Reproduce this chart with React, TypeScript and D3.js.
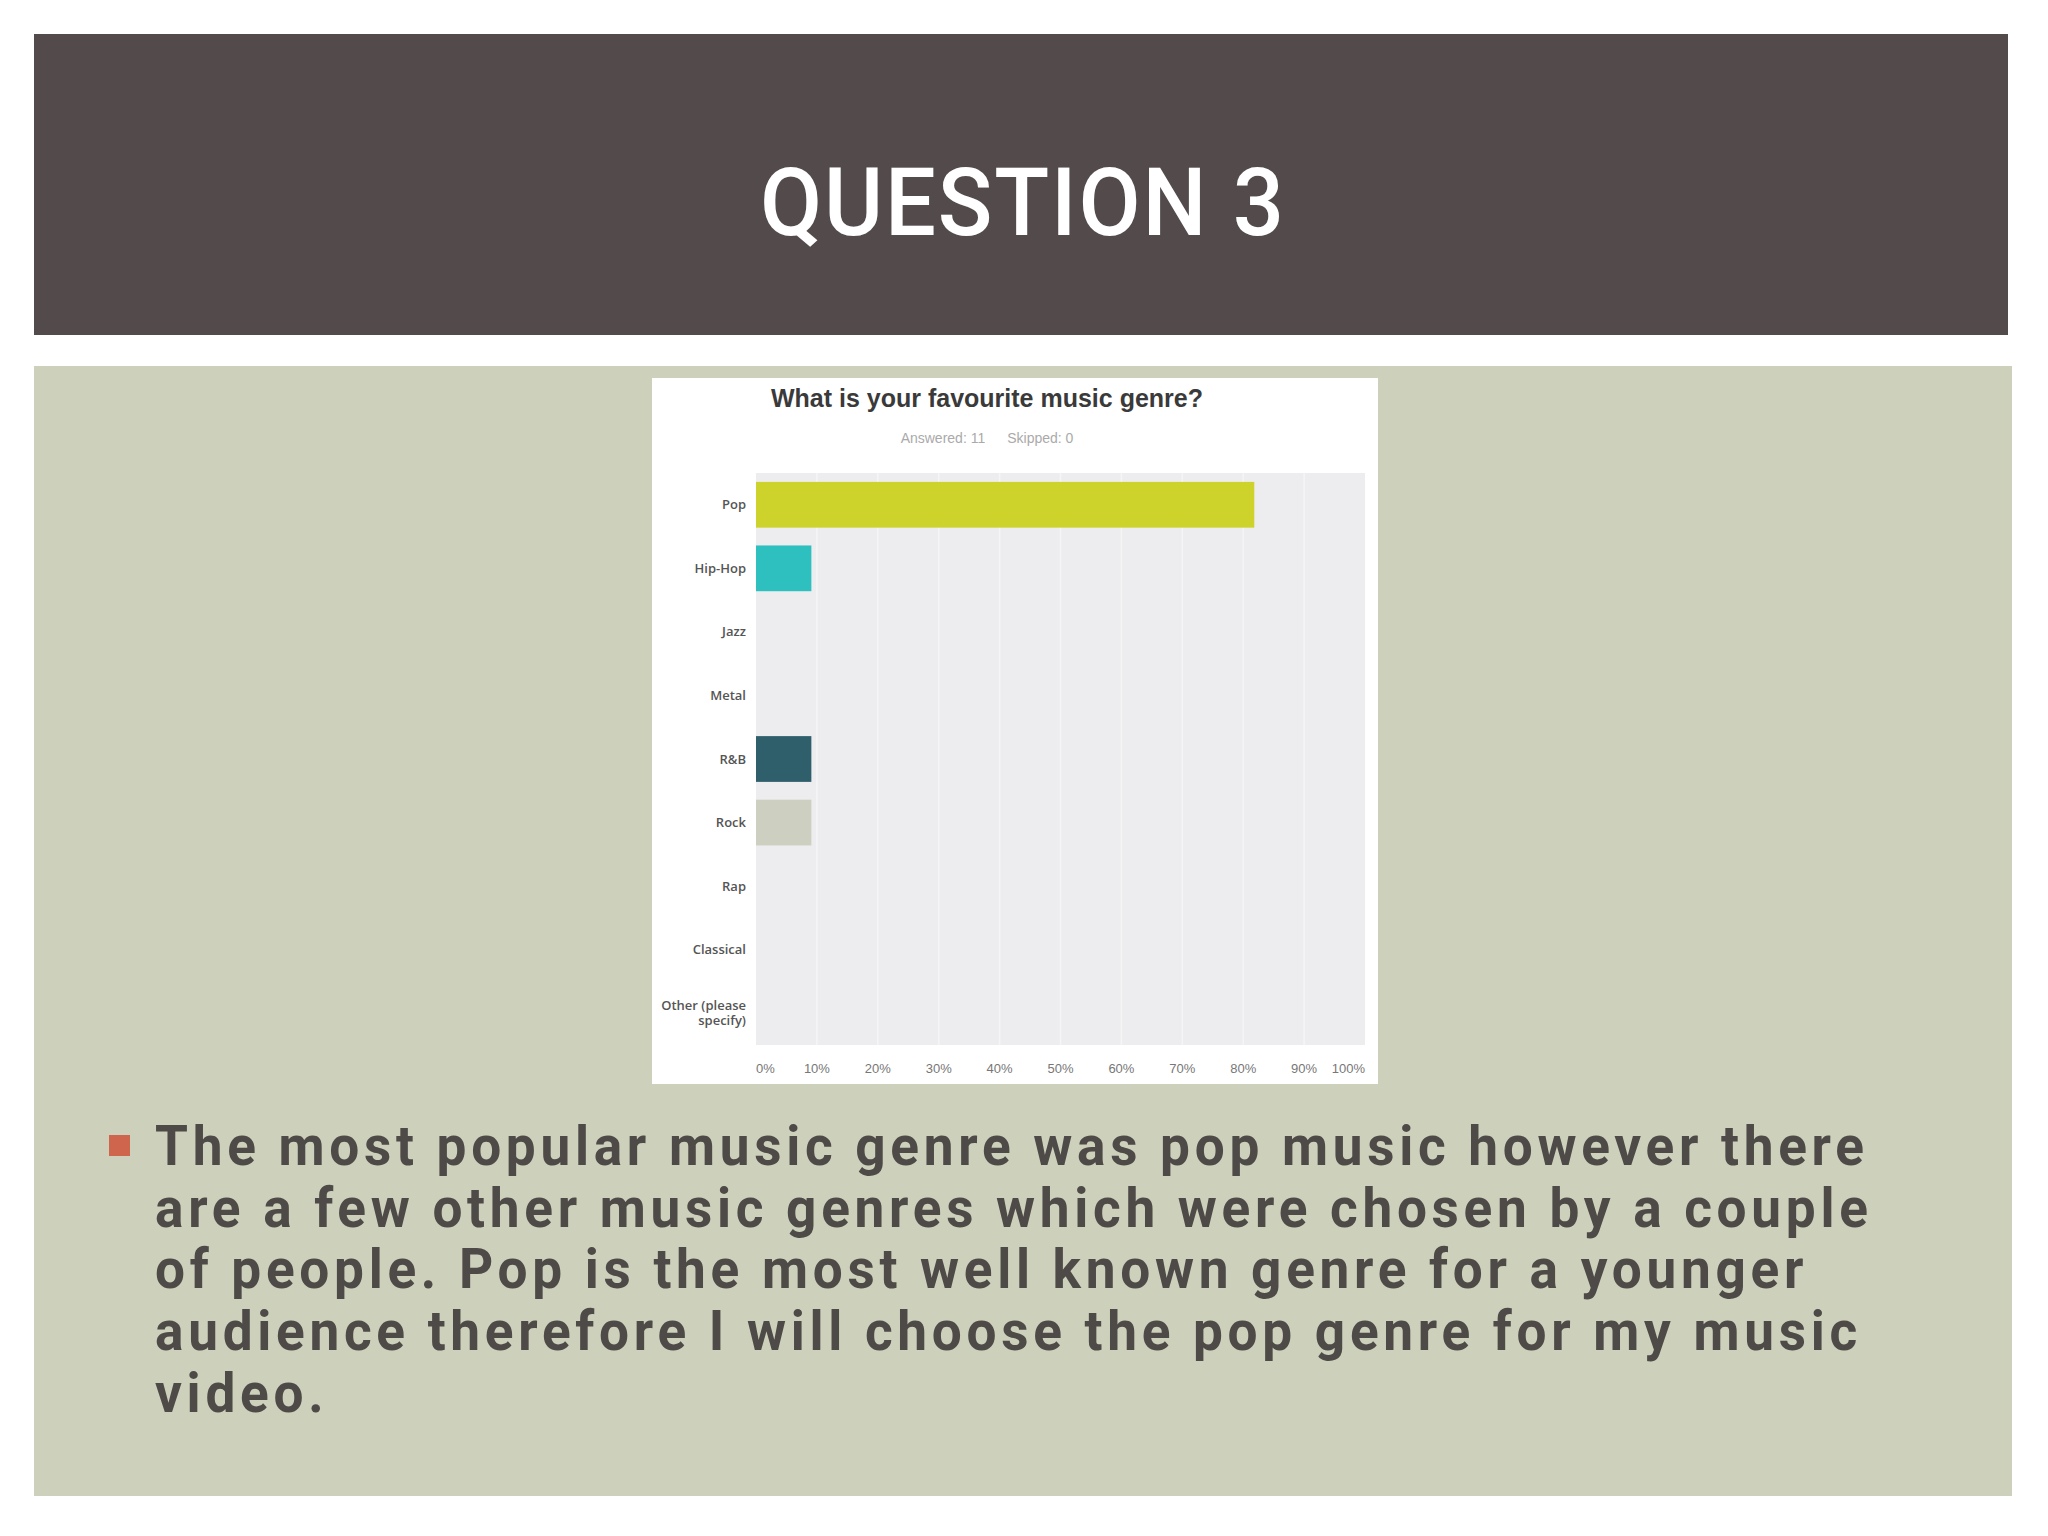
import React, { useEffect, useRef } from "react";
import * as d3 from "d3";

// survey results (percent of respondents)
const categories = [
  "Pop",
  "Hip-Hop",
  "Jazz",
  "Metal",
  "R&B",
  "Rock",
  "Rap",
  "Classical",
  "Other (please specify)",
];
const percents = [81.82, 9.09, 0, 0, 9.09, 9.09, 0, 0, 0];
const barColors = [
  "#cdd32b",
  "#2ebfbf",
  "#2e5f6b",
  "#2e5f6b",
  "#2e5f6b",
  "#cdcfc0",
  "#cdcfc0",
  "#cdcfc0",
  "#cdcfc0",
];
const xTicks = [0, 10, 20, 30, 40, 50, 60, 70, 80, 90, 100];

const slideTitle = "QUESTION 3";
const chartTitle = "What is your favourite music genre?";
const answered = 11;
const skipped = 0;

const bulletLines = [
  "The most popular music genre was pop music however there",
  "are a few other music genres which were chosen by a couple",
  "of people. Pop is the most well known genre for a younger",
  "audience therefore I will choose the pop genre for my music",
  "video.",
];

const W = 2048;
const H = 1536;

// squeeze a text horizontally and track it out so it spans `width`
function fitTracked(sel, x0, y0, sx, width, nChars) {
  sel.attr("x", 0).attr("y", 0).attr("transform", `translate(${x0},${y0}) scale(${sx},1)`);
  const nat = (sel.node() as SVGTextElement).getComputedTextLength();
  sel.attr("letter-spacing", (width / sx - nat) / (nChars - 1));
}

const App = () => {
  const svgRef = useRef<SVGSVGElement>(null);

  useEffect(() => {
    const svg = d3.select(svgRef.current);
    svg.selectAll("*").remove();

    svg.append("rect").attr("width", W).attr("height", H).attr("fill", "#ffffff");

    // header band
    svg
      .append("rect")
      .attr("x", 34)
      .attr("y", 34)
      .attr("width", 1974)
      .attr("height", 301)
      .attr("fill", "#524a4b");

    const titleText = svg
      .append("text")
      .attr("fill", "#ffffff")
      .attr("font-family", "Roboto, 'Liberation Sans', sans-serif")
      .attr("font-weight", 500)
      .attr("font-size", 95)
      .text(slideTitle);
    fitTracked(titleText, 760, 235, 0.95, 524, slideTitle.length);

    // content panel
    svg
      .append("rect")
      .attr("x", 34)
      .attr("y", 366)
      .attr("width", 1978)
      .attr("height", 1130)
      .attr("fill", "#cdd0ba");

    // chart card
    svg
      .append("rect")
      .attr("x", 652)
      .attr("y", 378)
      .attr("width", 726)
      .attr("height", 706)
      .attr("fill", "#ffffff");

    svg
      .append("text")
      .attr("x", 987)
      .attr("y", 407)
      .attr("text-anchor", "middle")
      .attr("fill", "#3a3a3a")
      .attr("font-family", "'Liberation Sans', Arial, sans-serif")
      .attr("font-weight", "bold")
      .attr("font-size", 25)
      .text(chartTitle);

    const sub = svg
      .append("text")
      .attr("x", 987)
      .attr("y", 443)
      .attr("text-anchor", "middle")
      .attr("fill", "#aaaaaa")
      .attr("font-family", "'Liberation Sans', Arial, sans-serif")
      .attr("font-size", 14);
    sub.append("tspan").text(`Answered: ${answered}`);
    sub.append("tspan").attr("dx", 22).text(`Skipped: ${skipped}`);

    const margin = { left: 756, top: 473, right: 1365, bottom: 1045 };

    const x = d3.scaleLinear().domain([0, 100]).range([margin.left, margin.right]);
    const y = d3
      .scaleBand()
      .domain(categories)
      .range([margin.top, margin.bottom])
      .paddingInner(0.28)
      .paddingOuter(0.14);

    svg
      .append("rect")
      .attr("x", margin.left)
      .attr("y", margin.top)
      .attr("width", margin.right - margin.left)
      .attr("height", margin.bottom - margin.top)
      .attr("fill", "#ededef");

    svg
      .append("g")
      .selectAll("line")
      .data(xTicks.slice(1, -1))
      .join("line")
      .attr("x1", (d) => x(d))
      .attr("x2", (d) => x(d))
      .attr("y1", margin.top)
      .attr("y2", margin.bottom)
      .attr("stroke", "#f5f5f7")
      .attr("stroke-width", 1.5);

    svg
      .append("g")
      .selectAll("rect")
      .data(percents)
      .join("rect")
      .attr("x", x(0))
      .attr("y", (d, i) => y(categories[i])!)
      .attr("width", (d) => x(d) - x(0))
      .attr("height", y.bandwidth())
      .attr("fill", (d, i) => barColors[i]);

    // category labels, long ones wrapped on two lines
    const labels = svg
      .append("g")
      .attr("font-family", "'Open Sans', sans-serif")
      .attr("font-size", 13)
      .attr("font-weight", 600)
      .attr("fill", "#555555")
      .attr("text-anchor", "end");
    categories.forEach((c) => {
      const cy = y(c)! + y.bandwidth() / 2;
      const lines = c.length > 12 ? [c.slice(0, c.lastIndexOf(" ")), c.slice(c.lastIndexOf(" ") + 1)] : [c];
      const t = labels.append("text").attr("x", 746);
      lines.forEach((ln, k) => {
        t.append("tspan")
          .attr("x", 746)
          .attr("y", cy + (k - (lines.length - 1) / 2) * 15)
          .attr("dy", "0.35em")
          .text(ln);
      });
    });

    svg
      .append("g")
      .attr("font-family", "'Liberation Sans', Arial, sans-serif")
      .attr("font-size", 13)
      .attr("fill", "#777777")
      .selectAll("text")
      .data(xTicks)
      .join("text")
      .attr("x", (d) => x(d))
      .attr("y", 1073)
      .attr("text-anchor", (d, i) => (i === 0 ? "start" : i === xTicks.length - 1 ? "end" : "middle"))
      .text((d) => `${d}%`);

    // bullet paragraph
    svg
      .append("rect")
      .attr("x", 109)
      .attr("y", 1135)
      .attr("width", 21)
      .attr("height", 21)
      .attr("fill", "#d0654e");

    const para = svg
      .append("g")
      .attr("font-family", "Roboto, 'Liberation Sans', sans-serif")
      .attr("font-weight", 700)
      .attr("font-size", 56)
      .attr("fill", "#4e4a47");
    const rows = para.selectAll("text").data(bulletLines).join("text").text((d) => d);
    const sx = 0.95;
    rows.attr("transform", (d, i) => `translate(155,${1165 + i * 61.7}) scale(${sx},1)`);
    const nat = (rows.node() as SVGTextElement).getComputedTextLength();
    rows.attr("letter-spacing", (1709 / sx - nat) / (bulletLines[0].length - 1));
  }, []);

  return (
    <div style={{ position: "absolute", left: 0, top: 0 }}>
      <svg ref={svgRef} width={W} height={H} style={{ display: "block" }}></svg>
    </div>
  );
};

export default App;
